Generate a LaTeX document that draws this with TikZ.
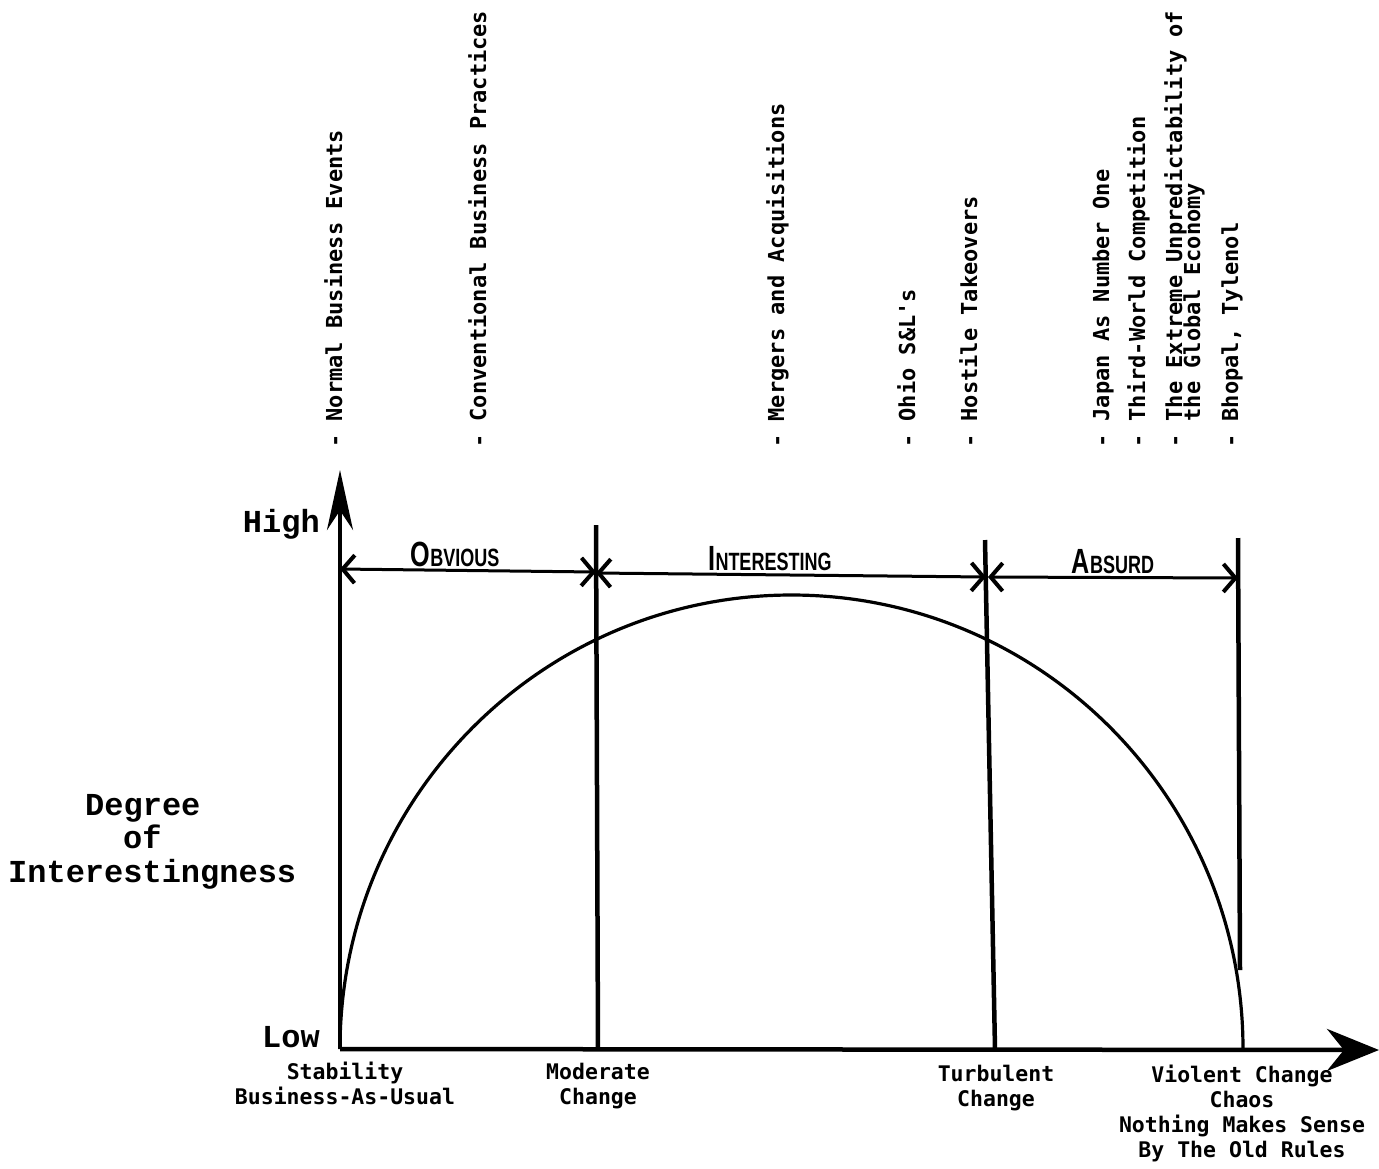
\documentclass[tikz,border=0pt]{standalone}
\usepackage{fontspec}
\usepackage{graphicx}
\newfontfamily\typefont{Liberation Mono}
\newfontfamily\printfont{DejaVu Sans Mono}
\newfontfamily\capfont{Liberation Sans}
\usetikzlibrary{arrows.meta}
\newcommand\zonecap[2]{\scalebox{0.72}[1]{{\fontsize{35}{35}\selectfont #1}{\fontsize{25}{25}\selectfont #2}}}
\begin{document}
\begin{tikzpicture}[x=1pt,y=-1pt,
  axis/.style={line width=4.5pt},
  divider/.style={line width=4.5pt},
  curveline/.style={line width=3.2pt},
  span/.style={line width=3pt,{Straight Barb[length=12pt,width=28pt,line width=4pt]}-{Straight Barb[length=12pt,width=28pt,line width=4pt]}},
  toplabel/.style={rotate=90,anchor=base west,inner sep=0pt,font=\printfont\bfseries\fontsize{22}{19}\selectfont},
  bottomlabel/.style={anchor=north,inner sep=0pt,align=center,font=\printfont\bfseries\fontsize{21.5}{25}\selectfont},
  levellabel/.style={anchor=base east,inner sep=0pt,font=\typefont\bfseries\fontsize{32}{34}\selectfont},
  ylabel/.style={anchor=base west,inner sep=0pt,font=\typefont\bfseries\fontsize{32}{34}\selectfont},
  zonelabel/.style={anchor=base,inner sep=0pt,font=\capfont\bfseries}
]
\useasboundingbox[fill=white] (0,0) rectangle (1379,1168);

% coordinates
\coordinate (origin) at (340,1049);
\coordinate (ytip) at (340,470);
\coordinate (xtip) at (1379,1050);
\coordinate (modtop) at (596,525);
\coordinate (modbot) at (598,1049);
\coordinate (turbtop) at (985,540);
\coordinate (turbbot) at (995,1049);
\coordinate (violtop) at (1238,538);
\coordinate (violbot) at (1240,970);
\coordinate (obl) at (340,569);
\coordinate (obr) at (596,572);
\coordinate (inl) at (596,573);
\coordinate (inr) at (986,577);
\coordinate (abl) at (988,577);
\coordinate (abr) at (1238,578);

% axes
\draw[axis,-{Stealth[length=60pt,width=26pt]}] (origin) -- (ytip);
\draw[axis,-{Stealth[length=52pt,width=42pt]}] (origin) -- (xtip);

% dividers
\draw[divider] (modtop) -- (modbot);
\draw[divider] (turbtop) -- (turbbot);
\draw[divider] (violtop) -- (violbot);

% curve
\draw[curveline] (origin) arc[start angle=180,end angle=360,x radius=451.5,y radius=454];

% spans
\draw[span] (obl) -- (obr);
\draw[span] (inl) -- (inr);
\draw[span] (abl) -- (abr);

\node[zonelabel] (obv) at (455,566) {\zonecap{O}{BVIOUS}};
\node[zonelabel] (int) at (770,570) {\zonecap{I}{NTERESTING}};
\node[zonelabel] (abs) at (1113,573) {\zonecap{A}{BSURD}};

% level labels
\node[levellabel] (high) at (320,532) {High};
\node[levellabel] (low) at (320,1047) {Low};

\node[ylabel] (deg1) at (85,815) {Degree};
\node[ylabel] (deg2) at (123,848) {of};
\node[ylabel] (deg3) at (8,882) {Interestingness};

% bottom labels
\node[bottomlabel] (stab) at (345,1062) {Stability\\Business-As-Usual};
\node[bottomlabel] (mod) at (598,1063) {Moderate\\Change};
\node[bottomlabel] (turb) at (996,1065) {Turbulent\\Change};
\node[bottomlabel] (viol) at (1242,1065) {Violent Change\\Chaos\\Nothing Makes Sense\\By The Old Rules};

% top labels
\node[toplabel] (t1) at (342,448) {- Normal Business Events};
\node[toplabel] (t2) at (486,448) {- Conventional Business Practices};
\node[toplabel] (t3) at (784,448) {- Mergers and Acquisitions};
\node[toplabel] (t4) at (915,448) {- Ohio S\&L's};
\node[toplabel] (t5) at (977,448) {- Hostile Takeovers};
\node[toplabel] (t6) at (1109,448) {- Japan As Number One};
\node[toplabel] (t7) at (1145,448) {- Third-World Competition};
\node[toplabel] (t8) at (1182,448) {- The Extreme Unpredictability of};
\node[toplabel] (t8b) at (1200,421.5) {the Global Economy};
\node[toplabel] (t9) at (1238,448) {- Bhopal, Tylenol};
\end{tikzpicture}
\end{document}
